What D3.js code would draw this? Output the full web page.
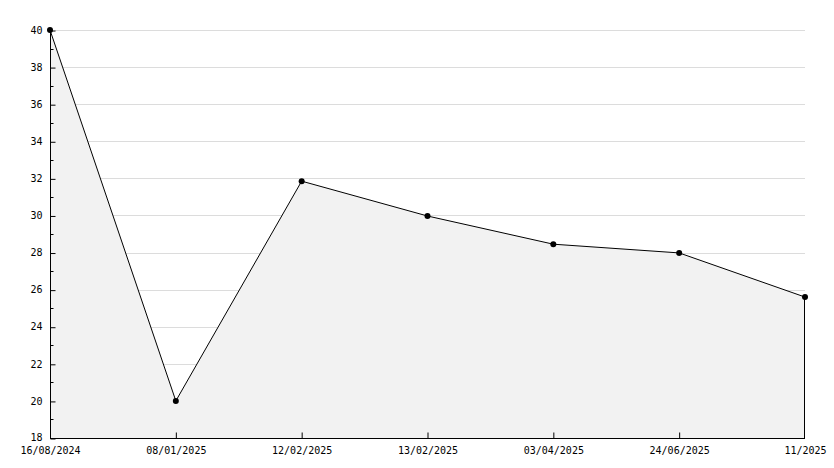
<!DOCTYPE html>
<html>
<head>
<meta charset="utf-8">
<script src="https://cdn.jsdelivr.net/npm/d3@7"></script>
<style>
  body { margin: 0; background: #fff; }
  text { font-family: "DejaVu Sans Mono", monospace; font-size: 10px; fill: #000; }
</style>
</head>
<body>
<svg width="834" height="468"></svg>
<script>
// dates along the bottom and the value read at each one
const dates = ["16/08/2024", "08/01/2025", "12/02/2025", "13/02/2025", "03/04/2025", "24/06/2025", "11/2025"];
const values = [40, 20, 31.85, 29.97, 28.45, 27.98, 25.6];
const yTicks = [18, 20, 22, 24, 26, 28, 30, 32, 34, 36, 38, 40];
const yMinor = [19, 21, 23, 25, 27, 29, 31, 33, 35, 37, 39];

const svg = d3.select("svg"),
    margin = {top: 30, right: 29, bottom: 30, left: 50},
    width = +svg.attr("width") - margin.left - margin.right,
    height = +svg.attr("height") - margin.top - margin.bottom,
    g = svg.append("g").attr("transform", "translate(" + margin.left + "," + margin.top + ")");

const x = d3.scalePoint().domain(dates).range([0, width]);
const y = d3.scaleLinear().domain([18, 40]).range([height, 0]);

const data = dates.map(function(d, i) { return {date: d, value: values[i]}; });

// grid
g.append("g")
  .selectAll("line")
  .data(yTicks.slice(1))
  .enter().append("line")
    .attr("x1", 5).attr("x2", width)
    .attr("y1", function(d) { return Math.round(y(d)) + 0.5; })
    .attr("y2", function(d) { return Math.round(y(d)) + 0.5; })
    .attr("stroke", "#dcdcdc");

// area under the line
g.append("path")
  .datum(data)
  .attr("fill", "#f2f2f2")
  .attr("d", d3.area()
    .x(function(d) { return x(d.date); })
    .y0(height)
    .y1(function(d) { return y(d.value); }));

// right edge of the area
const last = data[data.length - 1];
g.append("line")
  .attr("x1", x(last.date) - 0.5).attr("x2", x(last.date) - 0.5)
  .attr("y1", y(last.value)).attr("y2", height)
  .attr("stroke", "#000");

g.append("path")
  .datum(data)
  .attr("fill", "none")
  .attr("stroke", "#000")
  .attr("stroke-width", 1)
  .attr("d", d3.line()
    .x(function(d) { return x(d.date); })
    .y(function(d) { return y(d.value); }));

g.append("g")
  .selectAll("circle")
  .data(data)
  .enter().append("circle")
    .attr("cx", function(d) { return x(d.date); })
    .attr("cy", function(d) { return y(d.value); })
    .attr("r", 3)
    .attr("fill", "#000");

// y axis, ticks pointing into the plot
const yAxis = g.append("g")
    .attr("transform", "translate(0.5,0)")
    .call(d3.axisRight(y).tickValues(yTicks).tickSize(5).tickFormat(d3.format("d")));
yAxis.selectAll(".tick text").attr("x", -8).attr("text-anchor", "end");
yAxis.selectAll(".tick text").filter(function(d) { return d === 18; }).attr("dy", "0.2em");
yAxis.select(".domain").attr("d", "M0," + y(40) + "V" + (height + 0.5));
yAxis.selectAll(".tick line").attr("transform", "translate(0,0.5)");

g.append("g")
  .selectAll("line")
  .data(yMinor)
  .enter().append("line")
    .attr("x1", 0).attr("x2", 3.5)
    .attr("y1", function(d) { return Math.round(y(d)) + 0.5; })
    .attr("y2", function(d) { return Math.round(y(d)) + 0.5; })
    .attr("stroke", "#000");

// x axis
const xAxis = g.append("g")
    .attr("transform", "translate(0," + (height + 0.5) + ")")
    .call(d3.axisTop(x).tickSize(6).tickSizeOuter(0));
xAxis.selectAll(".tick text").attr("y", 15).attr("dy", "0");
xAxis.selectAll(".tick line").filter(function(d) { return d === dates[dates.length - 1]; }).remove();
xAxis.select(".domain").attr("d", "M0,0H" + width);
</script>
</body>
</html>
